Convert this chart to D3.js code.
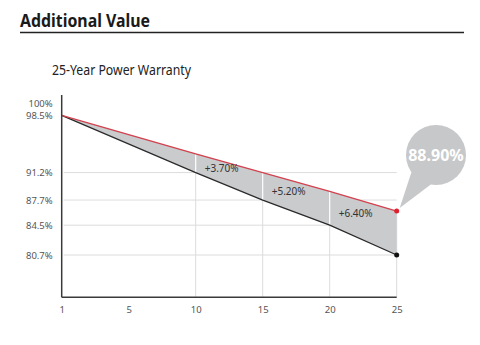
<!DOCTYPE html>
<html><head><meta charset="utf-8">
<script src="https://cdn.jsdelivr.net/npm/d3@7"></script>
<style>
html,body{margin:0;padding:0;background:#fff;}
svg{display:block;font-family:"Noto Sans","Open Sans",sans-serif;}
</style></head>
<body>
<script>
// ---- data ----
const xTicks = ["1", "5", "10", "15", "20", "25"];
const years = ["1", "10", "15", "20", "25"];
const warrantyRed = [98.5, 93.6, 91.2, 88.8, 86.3];   // upper (red) line as drawn
const standardBlack = [98.5, 91.2, 87.7, 84.5, 80.7]; // lower (black) line
const yTickValues = [100, 98.5, 91.2, 87.7, 84.5, 80.7];
const yTickLabels = ["100%", "98.5%", "91.2%", "87.7%", "84.5%", "80.7%"];
const gapYears = ["10", "15", "20"];
const gapLabels = ["+3.70%", "+5.20%", "+6.40%"];
const bubbleLabel = "88.90%";
const title = "Additional Value";
const subtitle = "25-Year Power Warranty";

const W = 480, H = 345;
const svg = d3.select("body").append("svg").attr("width", W).attr("height", H);

// title + rule
svg.append("text").attr("x", 20).attr("y", 26.5).text(title)
  .attr("font-size", 18).attr("font-weight", 700).attr("fill", "#1a1a1a")
  .attr("textLength", 130).attr("lengthAdjust", "spacingAndGlyphs");
svg.append("line").attr("x1", 20).attr("x2", 464).attr("y1", 32.5).attr("y2", 32.5)
  .attr("stroke", "#222").attr("stroke-width", 1.6);
svg.append("text").attr("x", 52).attr("y", 74.5).text(subtitle)
  .attr("font-size", 13.5).attr("fill", "#222")
  .attr("textLength", 139).attr("lengthAdjust", "spacingAndGlyphs");

// scales
const x = d3.scalePoint().domain(xTicks).range([61.7, 396.7]);
const y = d3.scaleLinear().domain([80.7, 98.5]).range([255, 115.3]);
const yBottom = 297.3, yTop = 95;

const redPts = years.map((yr, i) => ({yr, v: warrantyRed[i]}));
const blkPts = years.map((yr, i) => ({yr, v: standardBlack[i]}));

// horizontal grid
const gridG = svg.append("g");
yTickValues.filter(v => v < 98).forEach(v => {
  gridG.append("line").attr("x1", x("1") + 2).attr("x2", x("25"))
    .attr("y1", y(v)).attr("y2", y(v)).attr("stroke", "#dcdcdc").attr("stroke-width", 1);
});
// vertical grid up to red line
years.slice(1).forEach((yr, i) => {
  gridG.append("line").attr("x1", x(yr)).attr("x2", x(yr))
    .attr("y1", yBottom).attr("y2", y(warrantyRed[i + 1]))
    .attr("stroke", "#dcdcdc").attr("stroke-width", 1);
});

// area between lines
const areaData = years.map((yr, i) => ({yr, top: warrantyRed[i], bot: standardBlack[i]}));
svg.append("path").datum(areaData)
  .attr("d", d3.area().x(d => x(d.yr)).y0(d => y(d.bot)).y1(d => y(d.top)))
  .attr("fill", "#c9cbcd");

// white separators inside area
gapYears.forEach(yr => {
  const i = years.indexOf(yr);
  svg.append("line").attr("x1", x(yr)).attr("x2", x(yr))
    .attr("y1", y(standardBlack[i])).attr("y2", y(warrantyRed[i]))
    .attr("stroke", "#fff").attr("stroke-width", 1.2);
});

// lines
const line = d3.line().x(d => x(d.yr)).y(d => y(d.v));
svg.append("path").datum(blkPts).attr("d", line).attr("fill", "none")
  .attr("stroke", "#2a2a2a").attr("stroke-width", 1.3);
svg.append("path").datum(redPts).attr("d", line).attr("fill", "none")
  .attr("stroke", "#d2414e").attr("stroke-width", 1.3);

// gap labels
gapYears.forEach((yr, k) => {
  const i = years.indexOf(yr);
  svg.append("text").attr("x", x(yr) + 9)
    .attr("y", (y(warrantyRed[i]) + y(standardBlack[i])) / 2 + 5)
    .attr("dominant-baseline", "central")
    .attr("font-size", 10).attr("fill", "#333").text(gapLabels[k]);
});

// axes
const xAxis = d3.axisBottom(x).tickSize(0).tickPadding(9);
const gx = svg.append("g").attr("transform", `translate(0,${yBottom})`).call(xAxis);
gx.select(".domain").remove();
gx.selectAll("text").attr("font-size", 9.5).attr("fill", "#555")
  .attr("font-family", "'Noto Sans', sans-serif");
svg.append("line").attr("x1", x("1")).attr("x2", x("25")).attr("y1", yBottom).attr("y2", yBottom)
  .attr("stroke", "#3a3a3a").attr("stroke-width", 1.5);

const yAxis = d3.axisLeft(y).tickValues(yTickValues).tickSize(0).tickPadding(9)
  .tickFormat((d, i) => yTickLabels[i]);
const gy = svg.append("g").attr("transform", `translate(${x("1")},0)`).call(yAxis);
gy.select(".domain").remove();
gy.selectAll("text").attr("font-size", 9.5).attr("fill", "#555")
  .attr("font-family", "'Noto Sans', sans-serif");
svg.append("line").attr("x1", x("1")).attr("x2", x("1")).attr("y1", yTop).attr("y2", yBottom)
  .attr("stroke", "#3a3a3a").attr("stroke-width", 1.5);

// end dots
const last = years.length - 1;
svg.append("circle").attr("cx", x(years[last])).attr("cy", y(warrantyRed[last])).attr("r", 2.5).attr("fill", "#e0202e");
svg.append("circle").attr("cx", x(years[last])).attr("cy", y(standardBlack[last])).attr("r", 2.5).attr("fill", "#111");

// bubble
const cx = 436, cy = 155, r = 30;
const a1 = 100 * Math.PI / 180, a2 = 145 * Math.PI / 180;
const tipX = x(years[last]) + 3, tipY = y(warrantyRed[last]) - 3;
svg.append("path")
  .attr("d", `M${cx + r * Math.cos(a1)},${cy + r * Math.sin(a1)} L${tipX},${tipY} L${cx + r * Math.cos(a2)},${cy + r * Math.sin(a2)} Z`)
  .attr("fill", "#c6c8ca");
svg.append("circle").attr("cx", cx).attr("cy", cy).attr("r", r).attr("fill", "#c6c8ca");
svg.append("text").attr("x", cx).attr("y", cy).attr("text-anchor", "middle")
  .attr("dominant-baseline", "central").attr("font-size", 16).attr("font-weight", 700)
  .attr("fill", "#fff").text(bubbleLabel);
</script>
</body></html>
